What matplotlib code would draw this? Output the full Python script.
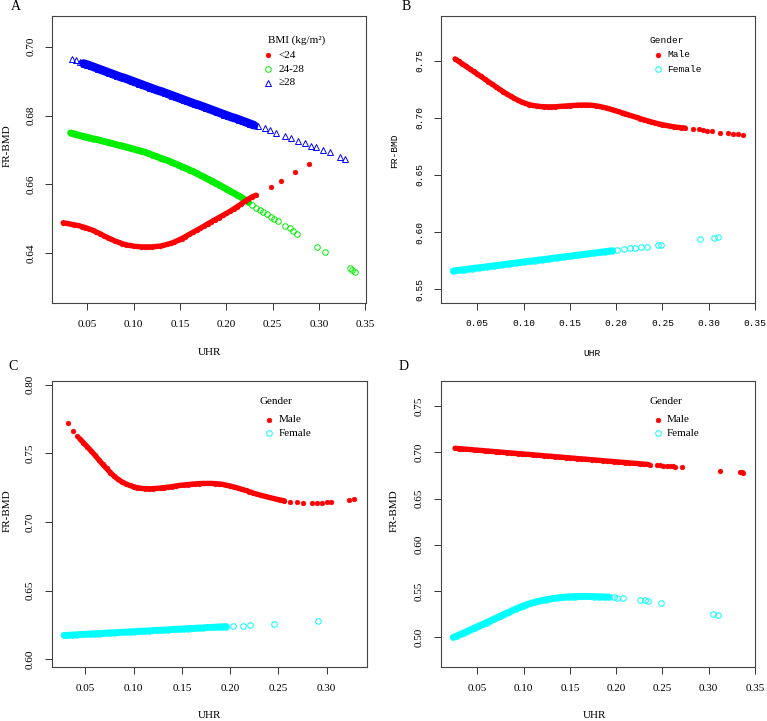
import matplotlib
matplotlib.use("Agg")
import matplotlib.pyplot as plt

# ---- panel A : BMI groups ----
a_low_x = [0.024, 0.028, 0.032, 0.036, 0.040, 0.044, 0.048, 0.052, 0.056, 0.060,
           0.064, 0.068, 0.072, 0.076, 0.080, 0.084, 0.088, 0.092, 0.096, 0.100,
           0.104, 0.108, 0.112, 0.116, 0.120, 0.124, 0.128, 0.132, 0.136, 0.140,
           0.144, 0.148, 0.152, 0.156, 0.160, 0.164, 0.168, 0.172, 0.176, 0.180,
           0.184, 0.188, 0.192, 0.196, 0.200, 0.204, 0.208, 0.212, 0.216, 0.220,
           0.224, 0.228, 0.232, 0.2478, 0.2595, 0.2747, 0.2898]
a_low_y = [0.6489, 0.6487, 0.6485, 0.6483, 0.6481, 0.6478, 0.6475, 0.6471, 0.6467, 0.6462,
           0.6457, 0.6451, 0.6446, 0.6441, 0.6436, 0.6432, 0.6428, 0.6425, 0.6423, 0.6421,
           0.6420, 0.6419, 0.6419, 0.6419, 0.6419, 0.6420, 0.6421, 0.6423, 0.6426, 0.6429,
           0.6433, 0.6438, 0.6443, 0.6449, 0.6455, 0.6461, 0.6467, 0.6473, 0.6479, 0.6486,
           0.6492, 0.6498, 0.6504, 0.6510, 0.6516, 0.6522, 0.6529, 0.6536, 0.6543, 0.6551,
           0.6558, 0.6564, 0.6569, 0.6592, 0.6611, 0.6635, 0.6658]

a_mid_x = [0.032, 0.036, 0.040, 0.044, 0.048, 0.052, 0.056, 0.060, 0.064, 0.068,
           0.072, 0.076, 0.080, 0.084, 0.088, 0.092, 0.096, 0.100, 0.104, 0.108,
           0.112, 0.116, 0.120, 0.124, 0.128, 0.132, 0.136, 0.140, 0.144, 0.148,
           0.152, 0.156, 0.160, 0.164, 0.168, 0.172, 0.176, 0.180, 0.184, 0.188,
           0.192, 0.196, 0.200, 0.204, 0.208, 0.212, 0.216, 0.220, 0.224, 0.228,
           0.232, 0.236, 0.240, 0.244, 0.248, 0.252, 0.256, 0.2630, 0.2684, 0.2720,
           0.2763, 0.2978, 0.3061, 0.3331, 0.3360, 0.3385]
a_mid_y = [0.6750, 0.6747, 0.6744, 0.6741, 0.6739, 0.6736, 0.6733, 0.6731, 0.6728, 0.6725,
           0.6722, 0.6720, 0.6717, 0.6714, 0.6712, 0.6709, 0.6706, 0.6703, 0.6700, 0.6697,
           0.6694, 0.6690, 0.6686, 0.6682, 0.6678, 0.6674, 0.6670, 0.6666, 0.6661, 0.6657,
           0.6652, 0.6648, 0.6643, 0.6638, 0.6632, 0.6627, 0.6622, 0.6616, 0.6611, 0.6605,
           0.6599, 0.6593, 0.6587, 0.6581, 0.6575, 0.6569, 0.6563, 0.6556, 0.6549, 0.6541,
           0.6533, 0.6526, 0.6519, 0.6513, 0.6507, 0.6501, 0.6495, 0.6480, 0.6473, 0.6465,
           0.6456, 0.6419, 0.6403, 0.6357, 0.6352, 0.6347]

a_high_x = [0.0331, 0.0375, 0.0418, 0.046, 0.050, 0.054, 0.058, 0.062, 0.066, 0.070,
            0.074, 0.078, 0.082, 0.086, 0.090, 0.094, 0.098, 0.102, 0.106, 0.110,
            0.114, 0.118, 0.122, 0.126, 0.130, 0.134, 0.138, 0.142, 0.146, 0.150,
            0.154, 0.158, 0.162, 0.166, 0.170, 0.174, 0.178, 0.182, 0.186, 0.190,
            0.194, 0.198, 0.202, 0.206, 0.210, 0.214, 0.218, 0.222, 0.226, 0.230,
            0.2343, 0.2415, 0.2469, 0.2541, 0.2630, 0.2702, 0.2774, 0.2846, 0.2918, 0.2972,
            0.3043, 0.3115, 0.3223, 0.3284]
a_high_y = [0.6964, 0.6960, 0.6955, 0.6951, 0.6948, 0.6944, 0.6940, 0.6936, 0.6932, 0.6928,
            0.6924, 0.6920, 0.6916, 0.6912, 0.6909, 0.6905, 0.6901, 0.6897, 0.6893, 0.6889,
            0.6885, 0.6881, 0.6877, 0.6873, 0.6870, 0.6866, 0.6862, 0.6858, 0.6854, 0.6850,
            0.6846, 0.6842, 0.6838, 0.6834, 0.6831, 0.6827, 0.6823, 0.6819, 0.6815, 0.6811,
            0.6807, 0.6803, 0.6799, 0.6795, 0.6792, 0.6788, 0.6784, 0.6780, 0.6776, 0.6772,
            0.6770, 0.6763, 0.6758, 0.6750, 0.6742, 0.6734, 0.6727, 0.6721, 0.6713, 0.6708,
            0.6700, 0.6693, 0.6681, 0.6675]

# ---- panel B : gender ----
b_male_x = [0.026, 0.030, 0.034, 0.038, 0.042, 0.046, 0.050, 0.054, 0.058, 0.062,
            0.066, 0.070, 0.074, 0.078, 0.082, 0.086, 0.090, 0.094, 0.098, 0.102,
            0.106, 0.110, 0.114, 0.118, 0.122, 0.126, 0.130, 0.134, 0.138, 0.142,
            0.146, 0.150, 0.154, 0.158, 0.162, 0.166, 0.170, 0.174, 0.178, 0.182,
            0.186, 0.190, 0.194, 0.198, 0.202, 0.206, 0.210, 0.214, 0.218, 0.222,
            0.226, 0.230, 0.234, 0.238, 0.242, 0.246, 0.250, 0.254, 0.258, 0.262,
            0.266, 0.270, 0.274, 0.2833, 0.2894, 0.2941, 0.2984, 0.3031, 0.3121, 0.3211,
            0.3265, 0.3319, 0.3373]
b_male_y = [0.7515, 0.7493, 0.7471, 0.7449, 0.7427, 0.7405, 0.7383, 0.7361, 0.7339, 0.7316,
            0.7294, 0.7272, 0.7250, 0.7228, 0.7208, 0.7189, 0.7170, 0.7153, 0.7138, 0.7126,
            0.7116, 0.7108, 0.7103, 0.7099, 0.7097, 0.7096, 0.7096, 0.7097, 0.7099, 0.7101,
            0.7104, 0.7106, 0.7108, 0.7110, 0.7111, 0.7112, 0.7111, 0.7109, 0.7105, 0.7099,
            0.7092, 0.7084, 0.7075, 0.7065, 0.7055, 0.7045, 0.7035, 0.7024, 0.7014, 0.7003,
            0.6993, 0.6983, 0.6973, 0.6964, 0.6955, 0.6947, 0.6940, 0.6933, 0.6927, 0.6922,
            0.6917, 0.6914, 0.6911, 0.6905, 0.6900, 0.6894, 0.6888, 0.6885, 0.6870, 0.6865,
            0.6859, 0.6856, 0.6853]

b_female_x = [0.024, 0.028, 0.032, 0.036, 0.040, 0.044, 0.048, 0.052, 0.056, 0.060,
              0.064, 0.068, 0.072, 0.076, 0.080, 0.084, 0.088, 0.092, 0.096, 0.100,
              0.104, 0.108, 0.112, 0.116, 0.120, 0.124, 0.128, 0.132, 0.136, 0.140,
              0.144, 0.148, 0.152, 0.156, 0.160, 0.164, 0.168, 0.172, 0.176, 0.180,
              0.184, 0.188, 0.192, 0.196, 0.2012, 0.2084, 0.2149, 0.2199, 0.2264, 0.2336,
              0.2451, 0.2487, 0.2905, 0.3056, 0.3103]
b_female_y = [0.5661, 0.5665, 0.5669, 0.5673, 0.5678, 0.5682, 0.5686, 0.5690, 0.5694, 0.5698,
              0.5702, 0.5706, 0.5711, 0.5715, 0.5719, 0.5723, 0.5727, 0.5731, 0.5735, 0.5740,
              0.5744, 0.5748, 0.5752, 0.5756, 0.5760, 0.5764, 0.5768, 0.5773, 0.5777, 0.5781,
              0.5785, 0.5789, 0.5793, 0.5797, 0.5802, 0.5806, 0.5810, 0.5814, 0.5818, 0.5822,
              0.5826, 0.5830, 0.5835, 0.5839, 0.5844, 0.5849, 0.5858, 0.5864, 0.5867, 0.5873,
              0.5887, 0.5890, 0.5937, 0.5951, 0.5954]

# ---- panel C : gender ----
c_male_x = [0.0324, 0.0376, 0.0417, 0.044, 0.048, 0.052, 0.056, 0.060, 0.064, 0.068,
            0.072, 0.076, 0.080, 0.084, 0.088, 0.092, 0.096, 0.100, 0.104, 0.108,
            0.112, 0.116, 0.120, 0.124, 0.128, 0.132, 0.136, 0.140, 0.144, 0.148,
            0.152, 0.156, 0.160, 0.164, 0.168, 0.172, 0.176, 0.180, 0.184, 0.188,
            0.192, 0.196, 0.200, 0.204, 0.208, 0.212, 0.216, 0.220, 0.224, 0.228,
            0.232, 0.236, 0.240, 0.244, 0.248, 0.252, 0.256, 0.2619, 0.2688, 0.2757,
            0.2843, 0.2895, 0.2947, 0.2999, 0.3040, 0.3230, 0.3282]
c_male_y = [0.7718, 0.7665, 0.7629, 0.7608, 0.7578, 0.7548, 0.7518, 0.7486, 0.7452, 0.7420,
            0.7390, 0.7360, 0.7333, 0.7310, 0.7292, 0.7278, 0.7266, 0.7257, 0.7250, 0.7245,
            0.7243, 0.7242, 0.7243, 0.7245, 0.7248, 0.7251, 0.7254, 0.7258, 0.7263, 0.7267,
            0.7270, 0.7273, 0.7276, 0.7278, 0.7280, 0.7281, 0.7281, 0.7281, 0.7280, 0.7278,
            0.7274, 0.7268, 0.7262, 0.7255, 0.7247, 0.7238, 0.7230, 0.7221, 0.7211, 0.7202,
            0.7194, 0.7187, 0.7180, 0.7173, 0.7166, 0.7160, 0.7155, 0.7148, 0.7146, 0.7141,
            0.7136, 0.7138, 0.7141, 0.7143, 0.7146, 0.7160, 0.7167]

c_female_x = [0.028, 0.032, 0.036, 0.040, 0.044, 0.048, 0.052, 0.056, 0.060, 0.064,
              0.068, 0.072, 0.076, 0.080, 0.084, 0.088, 0.092, 0.096, 0.100, 0.104,
              0.108, 0.112, 0.116, 0.120, 0.124, 0.128, 0.132, 0.136, 0.140, 0.144,
              0.148, 0.152, 0.156, 0.160, 0.164, 0.168, 0.172, 0.176, 0.180, 0.184,
              0.188, 0.192, 0.196, 0.2032, 0.2136, 0.2205, 0.2453, 0.2912]
c_female_y = [0.6175, 0.6176, 0.6178, 0.6179, 0.6181, 0.6182, 0.6184, 0.6185, 0.6187, 0.6188,
              0.6190, 0.6192, 0.6193, 0.6195, 0.6196, 0.6198, 0.6199, 0.6201, 0.6202, 0.6204,
              0.6205, 0.6207, 0.6208, 0.6210, 0.6212, 0.6213, 0.6215, 0.6216, 0.6218, 0.6219,
              0.6221, 0.6222, 0.6224, 0.6225, 0.6227, 0.6228, 0.6230, 0.6232, 0.6233, 0.6235,
              0.6236, 0.6238, 0.6239, 0.6242, 0.6245, 0.6248, 0.6260, 0.6279]

# ---- panel D : gender ----
d_male_x = [0.026, 0.030, 0.034, 0.038, 0.042, 0.046, 0.050, 0.054, 0.058, 0.062,
            0.066, 0.070, 0.074, 0.078, 0.082, 0.086, 0.090, 0.094, 0.098, 0.102,
            0.106, 0.110, 0.114, 0.118, 0.122, 0.126, 0.130, 0.134, 0.138, 0.142,
            0.146, 0.150, 0.154, 0.158, 0.162, 0.166, 0.170, 0.174, 0.178, 0.182,
            0.186, 0.190, 0.194, 0.198, 0.202, 0.206, 0.210, 0.214, 0.218, 0.222,
            0.226, 0.230, 0.234, 0.237, 0.2437, 0.2473, 0.2510, 0.2545, 0.2580, 0.2610,
            0.2635, 0.2707, 0.3121, 0.3337, 0.3355, 0.3373]
d_male_y = [0.7043, 0.7040, 0.7036, 0.7033, 0.7030, 0.7026, 0.7023, 0.7019, 0.7016, 0.7013,
            0.7009, 0.7006, 0.7003, 0.6999, 0.6996, 0.6993, 0.6989, 0.6986, 0.6983, 0.6979,
            0.6976, 0.6973, 0.6969, 0.6966, 0.6962, 0.6959, 0.6956, 0.6952, 0.6949, 0.6946,
            0.6942, 0.6939, 0.6936, 0.6932, 0.6929, 0.6926, 0.6922, 0.6919, 0.6916, 0.6912,
            0.6909, 0.6905, 0.6902, 0.6899, 0.6895, 0.6892, 0.6889, 0.6885, 0.6882, 0.6879,
            0.6875, 0.6872, 0.6869, 0.6866, 0.6861, 0.6858, 0.6855, 0.6852, 0.6849, 0.6847,
            0.6844, 0.6838, 0.6801, 0.6784, 0.6782, 0.6780]

d_female_x = [0.024, 0.028, 0.032, 0.036, 0.040, 0.044, 0.048, 0.052, 0.056, 0.060,
              0.064, 0.068, 0.072, 0.076, 0.080, 0.084, 0.088, 0.092, 0.096, 0.100,
              0.104, 0.108, 0.112, 0.116, 0.120, 0.124, 0.128, 0.132, 0.136, 0.140,
              0.144, 0.148, 0.152, 0.156, 0.160, 0.164, 0.168, 0.172, 0.176, 0.180,
              0.184, 0.188, 0.192, 0.1975, 0.2010, 0.2077, 0.2257, 0.2311, 0.2347, 0.2484,
              0.3049, 0.3103]
d_female_y = [0.5000, 0.5017, 0.5034, 0.5052, 0.5070, 0.5088, 0.5106, 0.5124, 0.5142, 0.5160,
              0.5178, 0.5197, 0.5216, 0.5235, 0.5254, 0.5272, 0.5290, 0.5308, 0.5325, 0.5341,
              0.5355, 0.5368, 0.5380, 0.5390, 0.5399, 0.5407, 0.5414, 0.5420, 0.5426, 0.5431,
              0.5435, 0.5438, 0.5440, 0.5441, 0.5442, 0.5442, 0.5442, 0.5442, 0.5441, 0.5440,
              0.5439, 0.5438, 0.5436, 0.5433, 0.5430, 0.5425, 0.5404, 0.5398, 0.5393, 0.5368,
              0.5252, 0.5241]

xticks_a = [0.05, 0.10, 0.15, 0.20, 0.25, 0.30, 0.35]
yticks_a = [0.64, 0.66, 0.68, 0.70]
yticks_b = [0.55, 0.60, 0.65, 0.70, 0.75]
xticks_c = [0.05, 0.10, 0.15, 0.20, 0.25, 0.30]
yticks_c = [0.60, 0.65, 0.70, 0.75, 0.80]
yticks_d = [0.50, 0.55, 0.60, 0.65, 0.70, 0.75]

SERIF = "Liberation Serif"
MONO = "Liberation Mono"
RED, GREEN, BLUE, CYAN = "#ff0000", "#00ee00", "#0000ff", "#00ffff"

red_dot = dict(ls="none", marker="o", ms=3.5, mfc=RED, mec=RED, mew=0.3)
green_c = dict(ls="none", marker="o", ms=4.0, mfc="none", mec=GREEN, mew=0.7)
cyan_c = dict(ls="none", marker="o", ms=4.0, mfc="none", mec=CYAN, mew=0.7)
blue_t = dict(ls="none", marker="^", ms=5.0, mfc="none", mec=BLUE, mew=0.7)

fig = plt.figure(figsize=(7.67, 7.21), dpi=100)
W, H = 767.0, 721.0


def make_axes(l, r, t, b):
    return fig.add_axes([l / W, 1 - b / H, (r - l) / W, (b - t) / H])


def points(ax, xs, ys, kw, band, lw):
    # the dense stretch of points merges into a solid band in the original
    bx = [x for x in xs if band[0] <= x <= band[1]]
    by = [y for x, y in zip(xs, ys) if band[0] <= x <= band[1]]
    ax.plot(bx, by, color=kw["mec"], lw=lw, solid_capstyle="round")
    ax.plot(xs, ys, **kw)


def style(ax, xlim, ylim, xt, yt, font, fs, ylab_xy, xlab_xy):
    ax.set_xlim(*xlim)
    ax.set_ylim(*ylim)
    ax.set_xticks(xt)
    ax.set_yticks(yt)
    ax.set_xticklabels(["%.2f" % v for v in xt], family=font, fontsize=fs)
    ax.set_yticklabels(["%.2f" % v for v in yt], family=font, fontsize=fs,
                       rotation=90, va="center")
    ax.tick_params(length=5, width=0.7, color="#333333", pad=7)
    for s in ax.spines.values():
        s.set_linewidth(0.8)
        s.set_color("#444444")
    ax.set_ylabel("FR-BMD", family=font, fontsize=fs)
    ax.yaxis.set_label_coords(*ylab_xy)
    ax.set_xlabel("UHR", family=font, fontsize=fs)
    ax.xaxis.set_label_coords(*xlab_xy)


def legend(ax, title, labels, kws, tx, mx, lx, ty, ys, font, fs):
    ax.text(tx, ty, title, transform=ax.transAxes, family=font, fontsize=fs,
            ha="left", va="center")
    for lab, kw, yy in zip(labels, kws, ys):
        ax.plot([mx], [yy], transform=ax.transAxes, clip_on=False, **kw)
        ax.text(lx, yy, lab, transform=ax.transAxes, family=font, fontsize=fs,
                ha="left", va="center")


# A
axA = make_axes(52, 366, 16, 303)
points(axA, a_high_x, a_high_y, blue_t, (0.046, 0.230), 6.2)
points(axA, a_mid_x, a_mid_y, green_c, (0.032, 0.224), 4.8)
points(axA, a_low_x, a_low_y, red_dot, (0.024, 0.232), 3.8)
style(axA, (0.012, 0.3508), (0.6256, 0.7089), xticks_a, yticks_a, SERIF, 8,
      (-0.127, 0.547), (0.5, -0.157))
legend(axA, "BMI (kg/m²)", ["<24", "24-28", "≥28"], [red_dot, green_c, blue_t],
       0.687, 0.687, 0.721, 0.916, [0.864, 0.815, 0.767], SERIF, 8)

# B
axB = make_axes(440.7, 755, 16, 302.7)
points(axB, b_female_x, b_female_y, cyan_c, (0.024, 0.196), 4.8)
points(axB, b_male_x, b_male_y, red_dot, (0.026, 0.274), 3.8)
style(axB, (0.0105, 0.35), (0.5383, 0.789), xticks_a, yticks_b, MONO, 6.8,
      (-0.133, 0.53), (0.48, -0.16))
legend(axB, "Gender", ["Male", "Female"], [red_dot, cyan_c],
       0.663, 0.691, 0.720, 0.916, [0.864, 0.815], MONO, 6.8)

# C
axC = make_axes(51.7, 366.7, 380.7, 667.3)
points(axC, c_female_x, c_female_y, cyan_c, (0.028, 0.196), 4.8)
points(axC, c_male_x, c_male_y, red_dot, (0.044, 0.256), 3.8)
style(axC, (0.0152, 0.3414), (0.5942, 0.8029), xticks_c, yticks_c, SERIF, 8,
      (-0.126, 0.545), (0.5, -0.152))
legend(axC, "Gender", ["Male", "Female"], [red_dot, cyan_c],
       0.661, 0.690, 0.721, 0.926, [0.863, 0.817], SERIF, 8)

# D
axD = make_axes(440.7, 755, 380.7, 667.3)
points(axD, d_female_x, d_female_y, cyan_c, (0.024, 0.192), 4.8)
points(axD, d_male_x, d_male_y, red_dot, (0.026, 0.234), 3.8)
style(axD, (0.0105, 0.35), (0.4676, 0.7773), xticks_a, yticks_d, SERIF, 8,
      (-0.133, 0.545), (0.49, -0.152))
legend(axD, "Gender", ["Male", "Female"], [red_dot, cyan_c],
       0.663, 0.691, 0.720, 0.926, [0.863, 0.817], SERIF, 8)

for lab, px, py in [("A", 16, 7), ("B", 406, 7), ("C", 13, 366), ("D", 404, 366)]:
    fig.text(px / W, 1 - py / H, lab, family=SERIF, fontsize=10, ha="center", va="center")

fig.savefig("out.png", dpi=100)
